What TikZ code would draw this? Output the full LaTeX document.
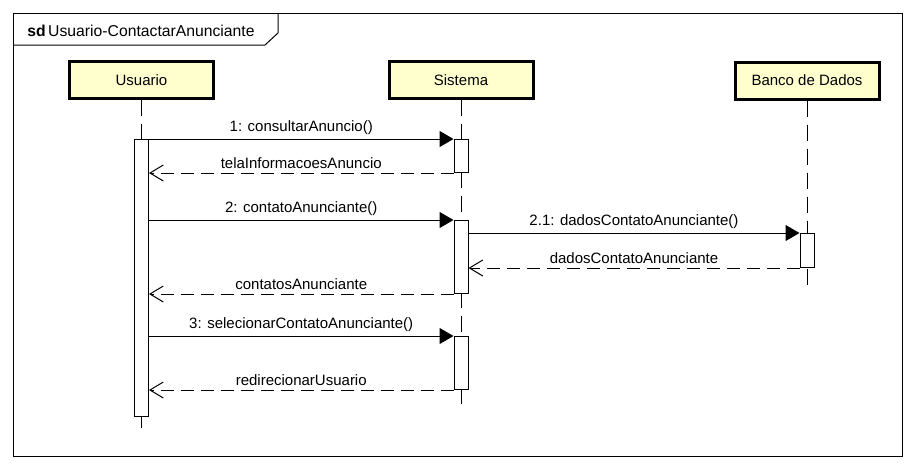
\documentclass[tikz,border=0pt]{standalone}
\usepackage{fontspec}
\setmainfont{Liberation Sans}
\usetikzlibrary{arrows.meta}
\definecolor{headfill}{RGB}{255,255,206}
\begin{document}
\begin{tikzpicture}[x=0.75pt,y=-0.75pt,
  every node/.style={font=\fontsize{11.25}{13}\selectfont},
  head/.style={draw, line width=2.25pt, fill=headfill, minimum width=108pt, minimum height=27.75pt, inner sep=0pt},
  life/.style={line width=0.75pt, dash pattern=on 12pt off 6pt},
  actbar/.style={draw, line width=0.75pt, fill=white, minimum width=10.5pt, inner sep=0pt, anchor=north},
  call/.style={line width=0.75pt, -{Triangle[length=10.5pt,width=12pt]}},
  ret/.style={line width=0.75pt, dash pattern=on 9.75pt off 5.25pt, -{Straight Barb[length=10pt,width=12pt,line width=0.75pt]}},
  lbl/.style={midway, above, inner sep=3pt}
]
\useasboundingbox[fill=white] (0,0) rectangle (914,469);
% frame
\draw[line width=0.75pt] (13,13) rectangle (902,456);
\draw[line width=0.75pt] (13,45) -- (265,45) -- (278,33) -- (278,13);
\node[anchor=west, inner sep=0pt, font=\fontsize{11.8}{13}\selectfont] (title) at (27,31) {\textbf{sd}\,Usuario-ContactarAnunciante};
% heads
\node[head] (u) at (141.5,80) {Usuario};
\node[head] (s) at (461,80) {Sistema};
\node[head] (b) at (807,80.5) {Banco de Dados};
% lifelines
\coordinate (uend) at (141.5,428);
\coordinate (send) at (461,404);
\coordinate (bend) at (807,285);
\draw[life] (u.south) -- (uend);
\draw[life] (s.south) -- (send);
\draw[life] (b.south) -- (bend);
% activation bars
\node[actbar, minimum height=207.75pt] (ua) at (141.5,139) {};
\node[actbar, minimum height=24.75pt] (s1) at (461,139) {};
\node[actbar, minimum height=54.75pt] (s2) at (461,220) {};
\node[actbar, minimum height=39.75pt] (s3) at (461,336) {};
\node[actbar, minimum height=25.5pt] (b1) at (807,233) {};
% messages
\draw[call] (ua.north east) -- (s1.north west) node[lbl] {1: consultarAnuncio()};
\draw[ret] (s1.south west) -- (ua.east |- s1.south) node[lbl] {telaInformacoesAnuncio};
\draw[call] (ua.east |- s2.north) -- (s2.north west) node[lbl] {2: contatoAnunciante()};
\draw[call] (s2.east |- b1.north) -- (b1.north west) node[lbl] {2.1: dadosContatoAnunciante()};
\draw[ret] (b1.south west) -- (s2.east |- b1.south) node[lbl] {dadosContatoAnunciante};
\draw[ret] (s2.south west) -- (ua.east |- s2.south) node[lbl] {contatosAnunciante};
\draw[call] (ua.east |- s3.north) -- (s3.north west) node[lbl] {3: selecionarContatoAnunciante()};
\draw[ret] (s3.south west) -- (ua.east |- s3.south) node[lbl] {redirecionarUsuario};
\end{tikzpicture}
\end{document}
